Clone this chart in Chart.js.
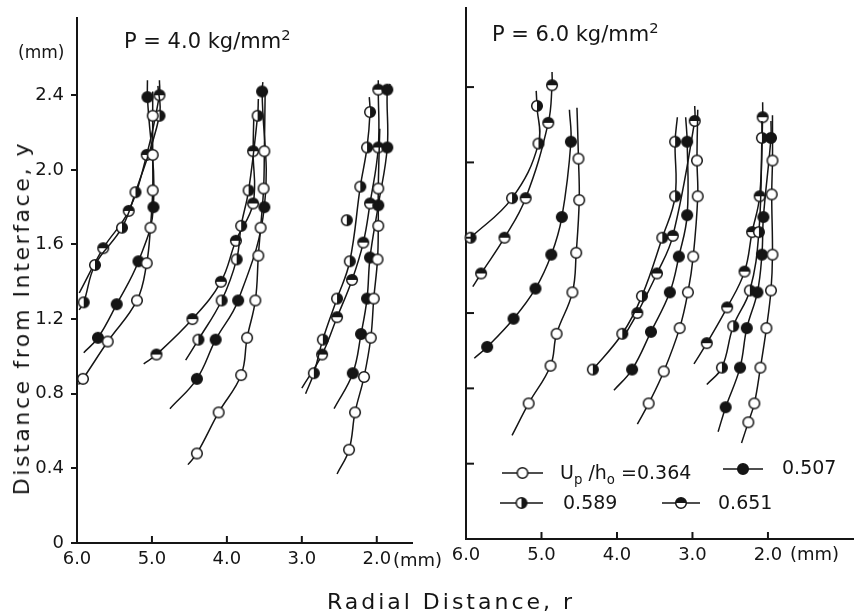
<!DOCTYPE html>
<html>
<head>
<meta charset="utf-8">
<script src="https://cdn.jsdelivr.net/npm/chart.js@4/dist/chart.umd.min.js"></script>
<style>
  body { margin: 0; background: #fff; width: 854px; height: 615px; overflow: hidden; position: relative;
         font-family: "DejaVu Sans", sans-serif; color: #151515; }
  canvas { position: absolute; top: 0; }
  #left { left: 0; }
  #right { left: 420px; }
  .t { position: absolute; white-space: nowrap; line-height: 1; }
  sub, sup { font-size: 0.7em; line-height: 0; }
</style>
</head>
<body>
<canvas id="left" width="420" height="615"></canvas>
<canvas id="right" width="434" height="615"></canvas>

<div class="t" style="left:18px;top:44px;font-size:17px">(mm)</div>
<div class="t" style="left:124px;top:31px;font-size:21px">P = 4.0 kg/mm<sup>2</sup></div>
<div class="t" style="left:492px;top:24px;font-size:21px">P = 6.0 kg/mm<sup>2</sup></div>
<div class="t" style="left:393px;top:551px;font-size:18px">(mm)</div>
<div class="t" style="left:790px;top:545px;font-size:18px">(mm)</div>
<div class="t" style="left:22px;top:318px;font-size:22px;letter-spacing:2.6px;transform:translate(-50%,-50%) rotate(-90deg)">Distance from Interface, y</div>
<div class="t" style="left:451px;top:602px;font-size:22px;letter-spacing:3px;transform:translate(-50%,-50%)">Radial Distance, r</div>

<div class="t" style="left:560px;top:463px;font-size:19px">U<sub>p</sub> /h<sub>o</sub> =0.364</div>
<div class="t" style="left:782px;top:458px;font-size:19px">0.507</div>
<div class="t" style="left:563px;top:493px;font-size:19px">0.589</div>
<div class="t" style="left:718px;top:493px;font-size:19px">0.651</div>

<script>
// Radial distance r (mm) vs distance from interface y (mm).
// Each curve: first and last pair are where the drawn line stops, the pairs between are the plotted markers.
// Three curve groups per panel, one curve per Up/ho value in each group.

const X_TICKS = [6, 5, 4, 3, 2];
const Y_TICKS_LEFT = [0, 0.4, 0.8, 1.2, 1.6, 2.0, 2.4];
const Y_TICKS_IN = [0.4, 0.8, 1.2, 1.6, 2.0, 2.4];
const X_TICKS_IN = [5, 4, 3, 2];

// P = 4.0 kg/mm2
const P4_364 = [
  [[4.99, 2.42], [4.99, 2.29], [4.99, 2.08], [4.99, 1.89], [5.02, 1.69], [5.07, 1.50], [5.20, 1.30], [5.59, 1.08], [5.92, 0.88], [5.98, 0.85]],
  [[3.49, 2.40], [3.50, 2.10], [3.51, 1.90], [3.55, 1.69], [3.58, 1.54], [3.62, 1.30], [3.73, 1.10], [3.81, 0.90], [4.11, 0.70], [4.40, 0.48], [4.52, 0.42]],
  [[1.96, 2.22], [1.98, 1.90], [1.98, 1.70], [1.99, 1.52], [2.04, 1.31], [2.08, 1.10], [2.17, 0.89], [2.29, 0.70], [2.37, 0.50], [2.53, 0.37]],
];
const P4_507 = [
  [[5.06, 2.48], [5.06, 2.39], [4.98, 1.80], [5.18, 1.51], [5.47, 1.28], [5.72, 1.10], [5.91, 1.02]],
  [[3.52, 2.47], [3.53, 2.42], [3.50, 1.80], [3.85, 1.30], [4.15, 1.09], [4.40, 0.88], [4.76, 0.72]],
  [[1.82, 2.46], [1.86, 2.43], [1.86, 2.12], [1.98, 1.81], [2.09, 1.53], [2.13, 1.31], [2.21, 1.12], [2.32, 0.91], [2.57, 0.72]],
];
const P4_589 = [
  [[4.92, 2.45], [4.90, 2.29], [5.22, 1.88], [5.40, 1.69], [5.76, 1.49], [5.91, 1.29], [5.97, 1.25]],
  [[3.58, 2.38], [3.59, 2.29], [3.71, 1.89], [3.81, 1.70], [3.87, 1.52], [4.07, 1.30], [4.38, 1.09], [4.55, 0.98]],
  [[2.10, 2.39], [2.09, 2.31], [2.13, 2.12], [2.22, 1.91], [2.36, 1.51], [2.53, 1.31], [2.72, 1.09], [2.84, 0.91], [2.95, 0.80]],
];
const P4_589_LOOSE = [[2.40, 1.73]];
const P4_651 = [
  [[4.90, 2.48], [4.90, 2.40], [5.07, 2.08], [5.31, 1.78], [5.65, 1.58], [5.97, 1.34]],
  [[3.64, 2.30], [3.65, 2.10], [3.65, 1.82], [3.88, 1.62], [4.08, 1.40], [4.46, 1.20], [4.94, 1.01], [5.11, 0.96]],
  [[1.98, 2.48], [1.98, 2.43], [1.98, 2.12], [2.09, 1.82], [2.18, 1.61], [2.33, 1.41], [2.53, 1.21], [2.73, 1.01], [3.00, 0.83]],
];

// P = 6.0 kg/mm2
const P6_364 = [
  [[4.53, 2.29], [4.51, 2.02], [4.50, 1.80], [4.54, 1.52], [4.59, 1.31], [4.80, 1.09], [4.88, 0.92], [5.17, 0.72], [5.39, 0.55]],
  [[2.93, 2.28], [2.94, 2.01], [2.93, 1.82], [2.99, 1.50], [3.06, 1.31], [3.17, 1.12], [3.38, 0.89], [3.58, 0.72], [3.73, 0.61]],
  [[1.94, 2.25], [1.94, 2.01], [1.95, 1.83], [1.94, 1.51], [1.96, 1.32], [2.02, 1.12], [2.10, 0.91], [2.18, 0.72], [2.26, 0.62], [2.35, 0.51]],
];
const P6_507 = [
  [[4.63, 2.28], [4.61, 2.11], [4.73, 1.71], [4.87, 1.51], [5.08, 1.33], [5.37, 1.17], [5.72, 1.02], [5.89, 0.96]],
  [[3.09, 2.24], [3.07, 2.11], [3.07, 1.72], [3.18, 1.50], [3.30, 1.31], [3.55, 1.10], [3.80, 0.90], [4.04, 0.79]],
  [[1.96, 2.22], [1.96, 2.13], [2.06, 1.71], [2.08, 1.51], [2.14, 1.31], [2.28, 1.12], [2.37, 0.91], [2.56, 0.70], [2.66, 0.57]],
];
const P6_589 = [
  [[5.07, 2.38], [5.06, 2.30], [5.04, 2.10], [5.39, 1.81], [5.94, 1.60], [5.97, 1.59]],
  [[3.20, 2.24], [3.23, 2.11], [3.23, 1.82], [3.40, 1.60], [3.67, 1.29], [3.93, 1.09], [4.32, 0.90], [4.37, 0.88]],
  [[2.08, 2.22], [2.08, 2.13], [2.12, 1.63], [2.24, 1.32], [2.46, 1.13], [2.61, 0.91], [2.81, 0.82]],
];
const P6_651 = [
  [[4.86, 2.48], [4.86, 2.41], [4.91, 2.21], [5.21, 1.81], [5.49, 1.60], [5.80, 1.41], [5.91, 1.34]],
  [[2.97, 2.30], [2.97, 2.22], [3.26, 1.61], [3.47, 1.41], [3.73, 1.20], [3.90, 1.08]],
  [[2.07, 2.32], [2.07, 2.24], [2.11, 1.82], [2.21, 1.63], [2.31, 1.42], [2.54, 1.23], [2.81, 1.04], [2.98, 0.93]],
];

const INK = "#151515";
const FONT = '"DejaVu Sans", sans-serif';

// circle markers: open, filled, right half black (0.589), top half black (0.651)
function marker(kind) {
  const c = document.createElement("canvas");
  c.width = 14; c.height = 14;
  const g = c.getContext("2d");
  const r = 5.3;
  g.fillStyle = "#fff";
  g.beginPath(); g.arc(7, 7, r, 0, 2 * Math.PI); g.fill();
  g.fillStyle = INK;
  g.beginPath();
  if (kind === "fill") g.arc(7, 7, r, 0, 2 * Math.PI);
  if (kind === "right") g.arc(7, 7, r, -Math.PI / 2, Math.PI / 2);
  if (kind === "top") g.arc(7, 7, r, Math.PI, 2 * Math.PI);
  g.closePath();
  if (kind !== "open") g.fill();
  g.lineWidth = 1.5; g.strokeStyle = INK;
  g.beginPath(); g.arc(7, 7, r, 0, 2 * Math.PI); g.stroke();
  return c;
}
const M = { open: marker("open"), fill: marker("fill"), right: marker("right"), top: marker("top") };

function curveSets(curves, style) {
  return curves.map((c) => ({
    data: c.map(([x, y]) => ({ x, y })),
    showLine: true,
    tension: 0.4,
    borderColor: INK,
    borderWidth: 1.5,
    pointStyle: style,
    pointRadius: (ctx) => (ctx.dataIndex === 0 || ctx.dataIndex === c.length - 1 ? 0 : 5),
    clip: false,
  }));
}

function looseSet(points, style) {
  return { data: points.map(([x, y]) => ({ x, y })), showLine: false, pointStyle: style, pointRadius: 5, clip: false };
}

// inward tick marks and the legend symbols
const decor = {
  id: "decor",
  afterDraw(chart, args, opts) {
    const { ctx, chartArea: a, scales: { x, y } } = chart;
    ctx.save();
    ctx.strokeStyle = INK;
    ctx.lineWidth = 2;
    for (const v of opts.xTicks || []) {
      const px = x.getPixelForValue(v);
      ctx.beginPath(); ctx.moveTo(px, a.bottom); ctx.lineTo(px, a.bottom - 7); ctx.stroke();
    }
    for (const v of opts.yTicks || []) {
      const py = y.getPixelForValue(v);
      ctx.beginPath(); ctx.moveTo(a.left, py); ctx.lineTo(a.left + 8, py); ctx.stroke();
    }
    ctx.lineWidth = 1.5;
    for (const item of opts.legend || []) {
      const [x0, x1, yy, mk] = item;
      ctx.beginPath(); ctx.moveTo(x0, yy); ctx.lineTo(x1, yy); ctx.stroke();
      const img = M[mk];
      ctx.drawImage(img, (x0 + x1) / 2 - 7, yy - 7);
    }
    ctx.restore();
  },
};

function panel(id, sets, cfg) {
  return new Chart(document.getElementById(id), {
    type: "scatter",
    data: { datasets: sets },
    plugins: [decor],
    options: {
      responsive: false,
      animation: false,
      events: [],
      layout: { padding: cfg.padding },
      plugins: {
        legend: { display: false },
        tooltip: { enabled: false },
        decor: { xTicks: X_TICKS_IN, yTicks: cfg.yTicksIn, legend: cfg.legend },
      },
      scales: {
        x: {
          type: "linear", min: cfg.xMin, max: 6.0, reverse: true,
          afterBuildTicks: (s) => { s.ticks = X_TICKS.map((value) => ({ value })); },
          afterFit: (s) => { s.height = cfg.xHeight; },
          ticks: { callback: (v) => v.toFixed(1), font: { family: FONT, size: 18 }, color: INK, padding: 6, maxRotation: 0, autoSkip: false },
          grid: { drawOnChartArea: false, drawTicks: false },
          border: { color: INK, width: 2 },
        },
        y: {
          type: "linear", min: 0, max: cfg.yMax,
          afterBuildTicks: (s) => { s.ticks = cfg.yTicks.map((value) => ({ value })); },
          afterFit: (s) => { s.width = cfg.yWidth; },
          ticks: { display: cfg.yLabels, callback: (v) => (v === 0 ? "0" : v.toFixed(1)), font: { family: FONT, size: 18 }, color: INK, padding: 7 },
          grid: { drawOnChartArea: false, drawTicks: cfg.yLabels, tickLength: 6, color: INK, lineWidth: 2 },
          border: { color: INK, width: 2 },
        },
      },
    },
  });
}

panel("left", [
  ...curveSets(P4_364, M.open), ...curveSets(P4_507, M.fill),
  ...curveSets(P4_589, M.right), ...curveSets(P4_651, M.top),
  looseSet(P4_589_LOOSE, M.right),
], {
  padding: { top: 13, right: 8, left: 0, bottom: 0 },
  xMin: 1.53, yMax: 2.815, xHeight: 72, yWidth: 77,
  yTicks: Y_TICKS_LEFT, yLabels: true, yTicksIn: [],
});

panel("right", [
  ...curveSets(P6_364, M.open), ...curveSets(P6_507, M.fill),
  ...curveSets(P6_589, M.right), ...curveSets(P6_651, M.top),
], {
  padding: { top: 8, right: 0, left: 0, bottom: 0 },
  xMin: 0.86, yMax: 2.82, xHeight: 76, yWidth: 46,
  yTicks: Y_TICKS_IN, yLabels: false, yTicksIn: Y_TICKS_IN,
  legend: [[82, 123, 473, "open"], [303, 343, 469, "fill"], [80, 123, 503, "right"], [242, 280, 503, "top"]],
});
</script>
</body>
</html>
